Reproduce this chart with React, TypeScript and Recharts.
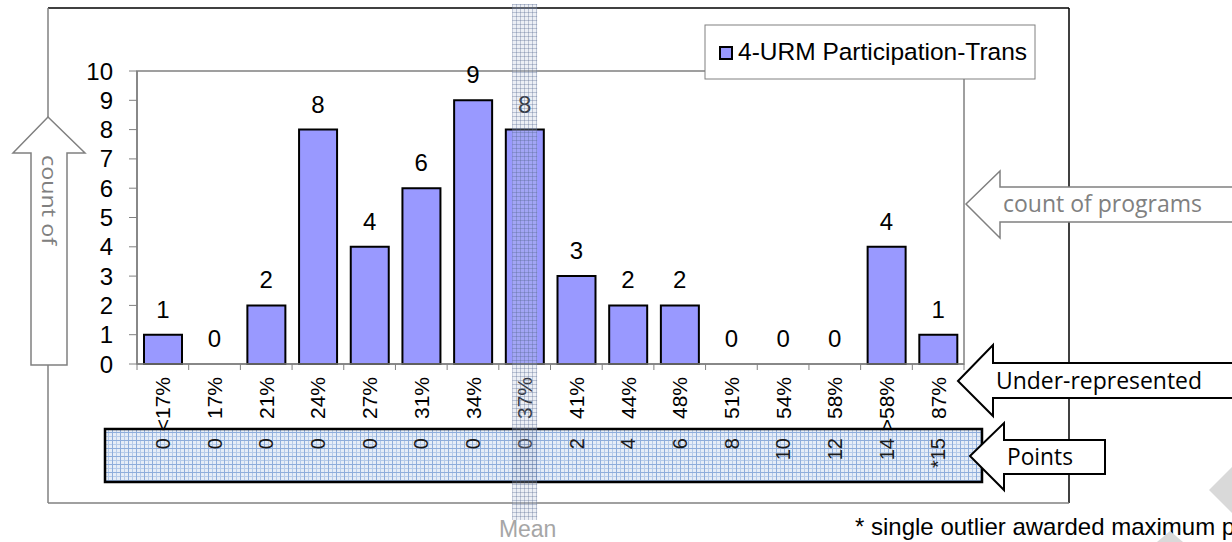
import React from 'react';
import { ComposedChart, Bar, Line, XAxis, YAxis, LabelList } from 'recharts';

const categories = ['<17%', '17%', '21%', '24%', '27%', '31%', '34%', '37%', '41%', '44%', '48%', '51%', '54%', '58%', '>58%', '87%'];
const counts = [1, 0, 2, 8, 4, 6, 9, 8, 3, 2, 2, 0, 0, 0, 4, 1];
const points = ['0', '0', '0', '0', '0', '0', '0', '0', '2', '4', '6', '8', '10', '12', '14', '*15'];
const yTicks = [0, 1, 2, 3, 4, 5, 6, 7, 8, 9, 10];
const seriesName = '4-URM Participation-Trans';
const meanCategory = '37%';

const data = categories.map((c, i) => ({ range: c, count: counts[i], points: points[i] }));

const W = 1232;
const H = 542;
const PLOT_L = 137;
const PLOT_R = 964;
const PLOT_T = 71;
const PLOT_B = 364;
const BAND = (PLOT_R - PLOT_L) / categories.length;
const ARIAL = '"Liberation Sans", Arial, sans-serif';
const CAL = '"Open Sans", "Noto Sans", sans-serif';

const XTick = (props: any) => {
  const { x, y, payload, index } = props;
  const top = y + 5;
  return (
    <g>
      <line x1={x - BAND / 2} x2={x - BAND / 2} y1={PLOT_B} y2={PLOT_B + 6} stroke="#808080" strokeWidth={1} />
      {index === categories.length - 1 && (
        <line x1={x + BAND / 2} x2={x + BAND / 2} y1={PLOT_B} y2={PLOT_B + 6} stroke="#808080" strokeWidth={1} />
      )}
      <text
        x={x}
        y={top}
        dy="0.36em"
        transform={`rotate(-90, ${x}, ${top})`}
        textAnchor="end"
        fontFamily={ARIAL}
        fontSize={21}
        fill="#000"
      >
        {payload.value}
      </text>
    </g>
  );
};

const PTick = (props: any) => {
  const { x, y, index } = props;
  const top = y + 14;
  return (
    <text
      x={x}
      y={top}
      dy="0.36em"
      transform={`rotate(-90, ${x}, ${top})`}
      textAnchor="end"
      fontFamily={ARIAL}
      fontSize={20}
      fill="#1a1a1a"
    >
      {points[index]}
    </text>
  );
};

export default function App() {
  const meanIdx = categories.indexOf(meanCategory);
  const meanX = PLOT_L + (meanIdx + 0.5) * BAND;
  return (
    <div style={{ position: 'absolute', left: 0, top: 0, width: W, height: H, overflow: 'hidden', background: '#fff' }}>
      <svg width={W} height={H} style={{ position: 'absolute', left: 0, top: 0 }}>
        <defs>
          <pattern id="ptsGrid" width="8" height="8" patternUnits="userSpaceOnUse">
            <rect width="8" height="8" fill="#e6edf7" />
            <path d="M0 0.5H8 M0 4.5H8 M0.5 0V8 M4.5 0V8" stroke="#b6cbe9" strokeWidth="1" />
            <path d="M0 0.5H8 M0.5 0V8" stroke="#8eaddb" strokeWidth="1" />
          </pattern>
        </defs>
        {/* outer chart border */}
        <line x1={48} y1={8} x2={1069} y2={8} stroke="#000" strokeWidth={1.5} />
        <line x1={1069} y1={8} x2={1069} y2={503} stroke="#000" strokeWidth={1.5} />
        <line x1={48} y1={503} x2={1069} y2={503} stroke="#808080" strokeWidth={1.5} />
        <line x1={48} y1={8} x2={48} y2={503} stroke="#808080" strokeWidth={1.5} />
        {/* plot area border */}
        <rect x={PLOT_L} y={PLOT_T} width={PLOT_R - PLOT_L} height={PLOT_B - PLOT_T} fill="none" stroke="#808080" strokeWidth={1.5} />
        {/* points box */}
        <rect x={105} y={429} width={877} height={53} fill="url(#ptsGrid)" stroke="#000" strokeWidth={2.5} />
      </svg>

      <div style={{ position: 'absolute', left: 0, top: 0 }}>
        <ComposedChart width={W} height={H} data={data} margin={{ top: PLOT_T, right: W - PLOT_R, bottom: 58, left: PLOT_L - 60 }} barSize={38}>
          <XAxis
            dataKey="range"
            xAxisId={0}
            height={60}
            interval={0}
            tickLine={false}
            tickSize={6}
            tickMargin={2}
            axisLine={{ stroke: '#808080', strokeWidth: 1.5 }}
            tick={XTick}
          />
          <XAxis
            dataKey="range"
            xAxisId="pts"
            height={60}
            interval={0}
            tickLine={false}
            tickSize={0}
            tickMargin={0}
            axisLine={false}
            tick={PTick}
          />
          <YAxis
            width={60}
            domain={[0, 10]}
            ticks={yTicks}
            interval={0}
            tickSize={8}
            tickMargin={16}
            axisLine={{ stroke: '#808080', strokeWidth: 1.5 }}
            tickLine={{ stroke: '#808080', strokeWidth: 1 }}
            tick={{ fontFamily: ARIAL, fontSize: 24, fill: '#000' }}
          />
          <Bar dataKey="count" xAxisId={0} fill="#9999ff" stroke="#000" strokeWidth={2} isAnimationActive={false} />
          <Line dataKey="count" xAxisId={0} stroke="none" dot={false} activeDot={false} legendType="none" isAnimationActive={false}>
            <LabelList dataKey="count" position="top" offset={17} fontFamily={ARIAL} fontSize={24} fill="#000" />
          </Line>
        </ComposedChart>
      </div>

      <svg width={W} height={H} style={{ position: 'absolute', left: 0, top: 0, pointerEvents: 'none' }}>
        <defs>
          <pattern id="meanGrid" width="4" height="4" patternUnits="userSpaceOnUse">
            <rect width="4" height="4" fill="rgba(185,198,220,0.28)" />
            <path d="M0 0.5H4 M0.5 0V4" stroke="rgba(80,100,140,0.32)" strokeWidth="1" />
          </pattern>
        </defs>
        {/* mean band */}
        <rect x={meanX - 12.5} y={4} width={25} height={516} fill="url(#meanGrid)" />
        <text x={meanX + 3} y={537} textAnchor="middle" fontFamily={ARIAL} fontSize={23} fill="#a6a6a6">Mean</text>

        {/* legend */}
        <rect x={705} y={25} width={330} height={54} fill="#fff" stroke="#808080" strokeWidth={1} />
        <rect x={720} y={47} width={12} height={12} fill="#9999ff" stroke="#000" strokeWidth={2} />
        <text x={738} y={60} fontFamily={ARIAL} fontSize={24.5} fill="#000">{seriesName}</text>

        {/* left up arrow */}
        <path d="M48,117 L85,153 L67,153 L67,365 L31,365 L31,153 L13,153 Z" fill="#fff" stroke="#808080" strokeWidth={1.5} />
        <text x={49} y={155} dy="0.36em" transform="rotate(90, 49, 155)" fontFamily={CAL} fontSize={20} fill="#808080" textLength={90} lengthAdjust="spacingAndGlyphs">count of</text>

        {/* count of programs arrow */}
        <path d="M966,204 L1000,171 L1000,187 L1300,187 L1300,222 L1000,222 L1000,238 Z" fill="#fff" stroke="#808080" strokeWidth={1.5} />
        <text x={1003} y={212} fontFamily={CAL} fontSize={23} fill="#808080" textLength={199} lengthAdjust="spacingAndGlyphs">count of programs</text>

        {/* under-represented arrow */}
        <path d="M958,381 L993,345 L993,363 L1300,363 L1300,398 L993,398 L993,416 Z" fill="#fff" stroke="#000" strokeWidth={2} />
        <text x={996} y={389} fontFamily={CAL} fontSize={23} fill="#000" textLength={206} lengthAdjust="spacingAndGlyphs">Under-represented</text>

        {/* points arrow */}
        <path d="M970,456 L1004,423 L1004,440 L1105,440 L1105,474 L1004,474 L1004,490 Z" fill="#fff" stroke="#000" strokeWidth={2} />
        <text x={1007} y={465} fontFamily={CAL} fontSize={23} fill="#000" textLength={66} lengthAdjust="spacingAndGlyphs">Points</text>

        {/* footnote */}
        <text x={855} y={535} fontFamily={ARIAL} fontSize={24} fill="#000">* single outlier awarded maximum points</text>

        {/* watermark fragments */}
        <path d="M1209,490 L1232,467 L1232,513 Z" fill="#d9d9d9" />
        <path d="M1157,542 L1170,531 L1183,542 Z" fill="#d9d9d9" />
      </svg>
    </div>
  );
}
